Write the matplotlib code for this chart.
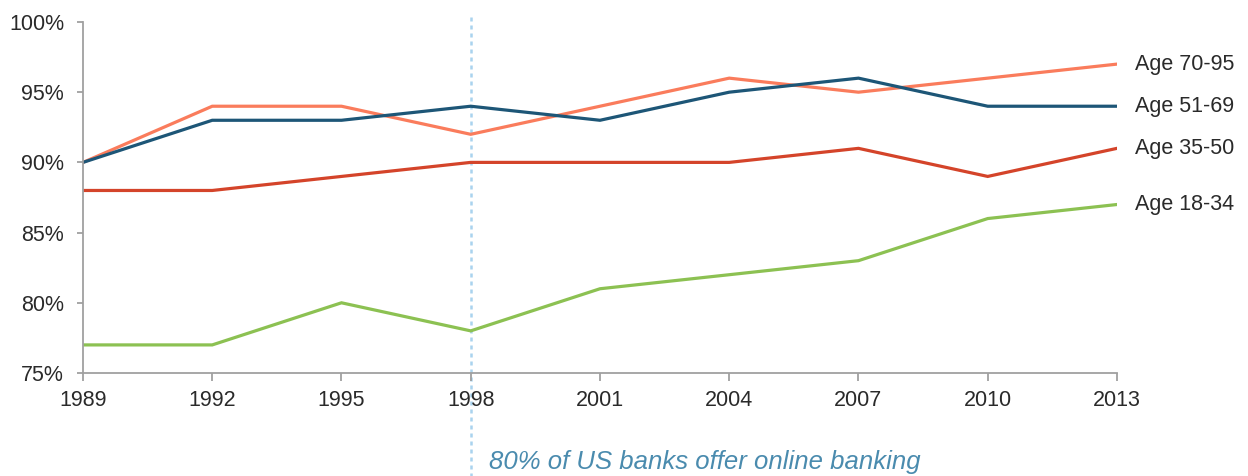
import matplotlib.pyplot as plt
from matplotlib.ticker import FuncFormatter

plt.rcParams['font.family'] = ['Liberation Sans', 'DejaVu Sans']

years = [1989, 1992, 1995, 1998, 2001, 2004, 2007, 2010, 2013]
age_70_95 = [90, 94, 94, 92, 94, 96, 95, 96, 97]
age_51_69 = [90, 93, 93, 94, 93, 95, 96, 94, 94]
age_35_50 = [88, 88, 89, 90, 90, 90, 91, 89, 91]
age_18_34 = [77, 77, 80, 78, 81, 82, 83, 86, 87]

series = [
    ('Age 70-95', age_70_95, '#fa7c5c'),
    ('Age 51-69', age_51_69, '#1d5677'),
    ('Age 35-50', age_35_50, '#d4442a'),
    ('Age 18-34', age_18_34, '#8cc152'),
]

milestone_year = 1998
milestone_text = '80% of US banks offer online banking'


def plot_chart():
    fig = plt.figure(figsize=(12.48, 4.76), dpi=100)
    ax = fig.add_axes([0.0665, 0.2164, 0.8285, 0.7374])

    for label, values, color in series:
        ax.plot(years, values, color=color, lw=2.3, solid_joinstyle='miter')
        ax.annotate(label, xy=(years[-1], values[-1]), xytext=(13, 0),
                    textcoords='offset points', ha='left', va='center',
                    fontsize=15.5, color='#2a2a2a')

    # dotted marker line, runs past the axis down to the note
    ax.axvline(milestone_year, ymin=-0.35, ymax=1.02, color='#a9d3ee',
               lw=1.8, ls=(0, (1.6, 1.6)), clip_on=False, zorder=0)
    ax.annotate(milestone_text, xy=(milestone_year, 75), xytext=(13, -64),
                textcoords='offset points', ha='left', va='center',
                fontsize=18.5, style='italic', color='#4a8bae')

    ax.set_xlim(years[0], years[-1])
    ax.set_ylim(75, 100)
    ax.set_xticks(years)
    ax.set_yticks(range(75, 101, 5))
    ax.yaxis.set_major_formatter(FuncFormatter(lambda v, p: f'{v:.0f}%'))

    for side in ['top', 'right']:
        ax.spines[side].set_visible(False)
    for side in ['left', 'bottom']:
        ax.spines[side].set_color('#a0a0a0')
        ax.spines[side].set_linewidth(1.3)
    ax.tick_params(direction='out', width=1.3, color='#a0a0a0',
                   labelsize=15.5, labelcolor='#2a2a2a')
    ax.tick_params(axis='y', length=4.5, pad=9)
    ax.tick_params(axis='x', length=6, pad=6)

    fig.savefig('out.png', dpi=100)


if __name__ == '__main__':
    plot_chart()
